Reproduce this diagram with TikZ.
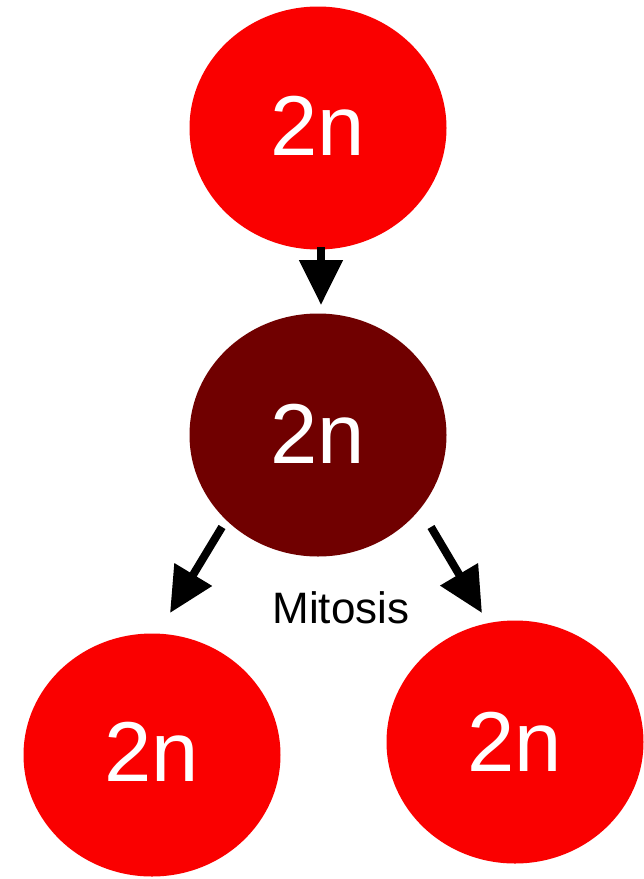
\documentclass[tikz,border=0pt]{standalone}
\usepackage{fontspec}
\setmainfont{Liberation Sans}
\usetikzlibrary{shapes.geometric,arrows.meta}
\definecolor{cellred}{RGB}{250,0,0}
\definecolor{celldark}{RGB}{112,0,0}
\tikzset{
  cell/.style={ellipse, inner sep=0pt, minimum width=257pt, minimum height=243pt,
    text=white, font=\fontsize{85}{90}\selectfont},
  bigarrow/.style={line width=8pt, -{Triangle[length=45pt,width=42pt]}},
  lbl/.style={font=\fontsize{44}{48}\selectfont, text=black}
}
\begin{document}
\begin{tikzpicture}[x=1pt,y=-1pt]
\useasboundingbox[fill=white] (0,0) rectangle (644,879);
\node[cell, fill=cellred] (top) at (318,128) {\raisebox{4pt}{2n}};
\node[cell, fill=celldark] (mid) at (318,435) {\raisebox{2pt}{2n}};
\node[cell, fill=cellred] (left) at (152,755) {\raisebox{6pt}{2n}};
\node[cell, fill=cellred] (right) at (515,742) {2n};
\node[lbl] (mitosis) at (341,608) {Mitosis};
\coordinate (a1s) at (321,247);
\coordinate (a1e) at (321,305);
\coordinate (a2s) at (222,527);
\coordinate (a2e) at (170,613);
\coordinate (a3s) at (431,527);
\coordinate (a3e) at (482,613);
\draw[bigarrow] (a1s) -- (a1e);
\draw[bigarrow] (a2s) -- (a2e);
\draw[bigarrow] (a3s) -- (a3e);
\end{tikzpicture}
\end{document}
